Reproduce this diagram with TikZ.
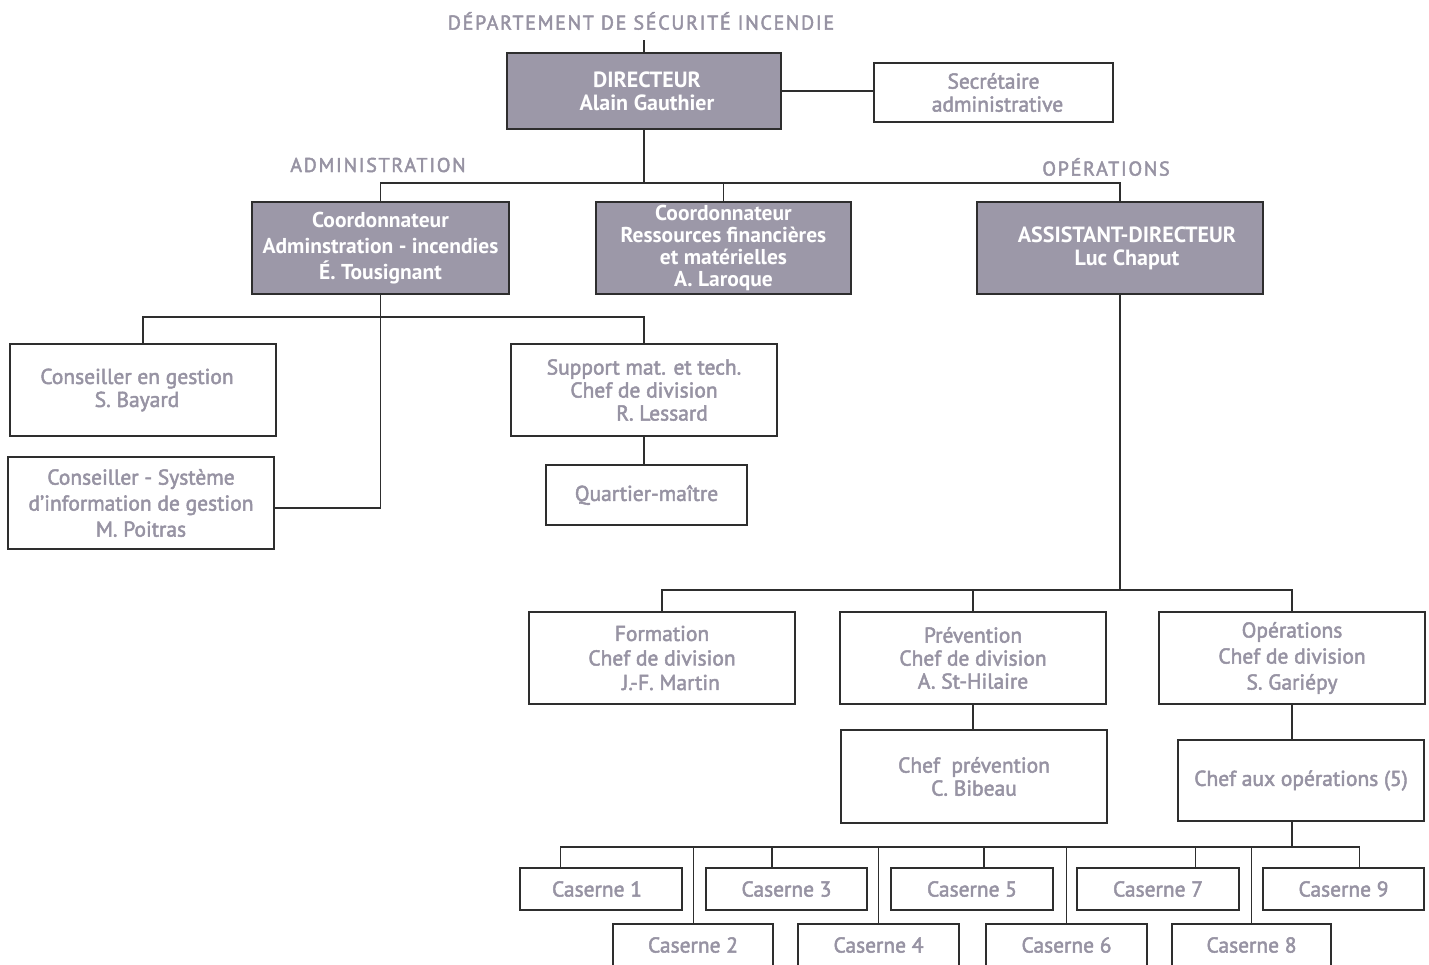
\documentclass[tikz,border=0pt]{standalone}
\usepackage{fontspec}
\setmainfont{PT Sans}
\newfontfamily\medfont{PT Sans}[FakeBold=2.2]
\usetikzlibrary{calc}
\definecolor{boxgray}{HTML}{9C98A8}
\definecolor{txtgray}{HTML}{9793A3}
\definecolor{linec}{HTML}{2E2E2E}
\tikzset{
  box/.style={draw=linec, line width=1.3pt, fill=white, text=txtgray, align=center, inner sep=0pt,
    font=\fontsize{21.5}{23}\selectfont\medfont},
  darkbox/.style={box, fill=boxgray, text=white, font=\fontsize{22}{23}\selectfont\bfseries},
  lbl/.style={text=txtgray, inner sep=0pt, font=\fontsize{20}{22}\selectfont\medfont\addfontfeatures{LetterSpace=8.5}},
  conn/.style={draw=linec, line width=1.3pt},
}
\begin{document}
\begin{tikzpicture}[x=1pt,y=-1pt]
\useasboundingbox[fill=white] (0,0) rectangle (1429,964);
\clip (0,0) rectangle (1429,964);
% labels
\node[lbl] (title) at (641,21) {DÉPARTEMENT DE SÉCURITÉ INCENDIE};
\node[lbl] (admlbl) at (378,165) {ADMINISTRATION};
\node[lbl] (oplbl) at (1106,167) {OPÉRATIONS};
% top
\node[darkbox, minimum width=274pt, minimum height=76pt] (dir) at (644,91) {\hspace*{6pt}DIRECTEUR\\\hspace*{6pt}Alain Gauthier};
\node[box, minimum width=239pt, minimum height=59pt] (sec) at (993.5,92.5) {Secrétaire\\\hspace*{8pt}administrative};
\node[darkbox, minimum width=257pt, minimum height=92pt, font=\fontsize{21.5}{26}\selectfont\bfseries] (cadm) at (380.5,248) {Coordonnateur\\Adminstration - incendies\\É. Tousignant};
\node[darkbox, minimum width=255pt, minimum height=92pt, font=\fontsize{21.5}{21.7}\selectfont\bfseries] (cres) at (723.5,248) {Coordonnateur\\Ressources financières\\et matérielles\\A. Laroque};
\node[darkbox, minimum width=286pt, minimum height=92pt] (asst) at (1120,248) {\hspace*{14pt}ASSISTANT-DIRECTEUR\\\hspace*{14pt}Luc Chaput};
% administration
\node[box, minimum width=266pt, minimum height=92pt] (cg) at (143,390) {\hspace*{-12pt}Conseiller en gestion\\\hspace*{-12pt}S. Bayard};
\node[box, minimum width=266pt, minimum height=92pt, font=\fontsize{21.5}{26}\selectfont\medfont] (csig) at (141,503) {Conseiller - Système\\d’information de gestion\\M. Poitras};
\node[box, minimum width=266pt, minimum height=92pt] (sup) at (644,390) {Support mat. et tech.\\Chef de division\\\hspace*{36pt}R. Lessard};
\node[box, minimum width=201pt, minimum height=60pt] (qm) at (646.5,495) {Quartier-maître};
% operations
\node[box, minimum width=266pt, minimum height=92pt, font=\fontsize{21.5}{24.5}\selectfont\medfont] (form) at (662,658) {Formation\\Chef de division\\\hspace*{18pt}J.-F. Martin};
\node[box, minimum width=266pt, minimum height=92pt] (prev) at (973,658) {Prévention\\Chef de division\\A. St-Hilaire};
\node[box, minimum width=266pt, minimum height=92pt, font=\fontsize{21.5}{26}\selectfont\medfont] (ops) at (1292,658) {Opérations\\Chef de division\\S. Gariépy};
\node[box, minimum width=266pt, minimum height=93pt] (cprev) at (974,776.5) {Chef~ prévention\\C. Bibeau};
\node[box, minimum width=246pt, minimum height=81pt] (caop) at (1301,780.5) {Chef aux opérations (5)};
% casernes
\node[box, minimum width=162pt, minimum height=42pt] (c1) at (601,889) {\hspace*{-8pt}Caserne 1};
\node[box, minimum width=161pt, minimum height=42pt] (c3) at (786.5,889) {Caserne 3};
\node[box, minimum width=162pt, minimum height=42pt] (c5) at (972,889) {Caserne 5};
\node[box, minimum width=162pt, minimum height=42pt] (c7) at (1158,889) {Caserne 7};
\node[box, minimum width=161pt, minimum height=42pt] (c9) at (1343.5,889) {Caserne 9};
\node[box, minimum width=160pt, minimum height=42pt] (c2) at (693,945) {Caserne 2};
\node[box, minimum width=161pt, minimum height=42pt] (c4) at (878.5,945) {Caserne 4};
\node[box, minimum width=161pt, minimum height=42pt] (c6) at (1066.5,945) {Caserne 6};
\node[box, minimum width=159pt, minimum height=42pt] (c8) at (1251.5,945) {Caserne 8};
% coordinates
\coordinate (ttop) at (644,40);
\coordinate (bus1) at (644,183);
\coordinate (bus2) at (380,317);
\coordinate (bus3) at (1120,590);
\coordinate (bus4) at (1292,847);
% connectors
\draw[conn] (dir.north) -- (ttop);
\draw[conn] (dir.east) -- (dir.east -| sec.west);
\draw[conn] (dir.south) -- (bus1);
\draw[conn] (cadm.north) |- (bus1) -| (asst.north);
\draw[conn] (cres.north) -- (cres.north |- bus1);
\draw[conn] (cadm.south) |- ($(csig.east)+(0,5)$);
\draw[conn] (cg.north) |- (bus2) -| (sup.north);
\draw[conn] (sup.south) -- (sup.south |- qm.north);
\draw[conn] (asst.south) -- (bus3);
\draw[conn] (form.north) |- (bus3) -| (ops.north);
\draw[conn] (prev.north) -- (prev.north |- bus3);
\draw[conn] (prev.south) -- (prev.south |- cprev.north);
\draw[conn] (ops.south) -- (ops.south |- caop.north);
\draw[conn] (caop.south -| ops.south) -- (bus4);
\coordinate (t1) at ($(c1.north west)!0.253!(c1.north east)$);
\coordinate (t3) at ($(c3.north west)!0.41!(c3.north east)$);
\coordinate (t5) at ($(c5.north west)!0.574!(c5.north east)$);
\coordinate (t7) at ($(c7.north west)!0.728!(c7.north east)$);
\coordinate (t9) at ($(c9.north west)!0.60!(c9.north east)$);
\draw[conn] (t1) |- (bus4) -| (t9);
\draw[conn] (t3) -- (t3 |- bus4);
\draw[conn] (t5) -- (t5 |- bus4);
\draw[conn] (t7) -- (t7 |- bus4);
\draw[conn, line width=1pt] (c2.north) -- (c2.north |- bus4);
\draw[conn, line width=1pt] (c4.north) -- (c4.north |- bus4);
\draw[conn, line width=1pt] (c6.north) -- (c6.north |- bus4);
\draw[conn, line width=1pt] (c8.north) -- (c8.north |- bus4);
\end{tikzpicture}
\end{document}
